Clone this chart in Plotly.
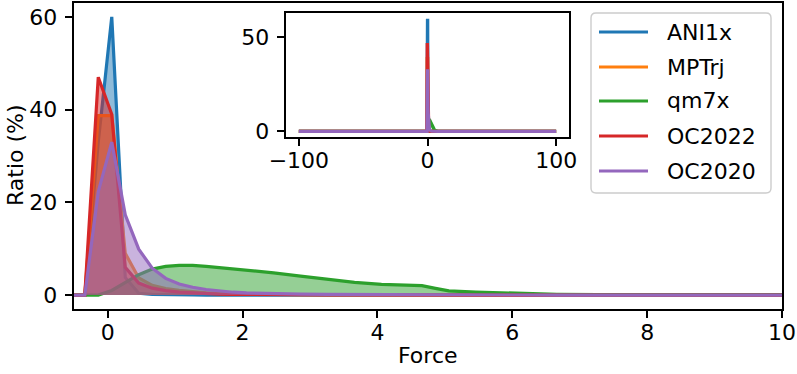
import plotly.graph_objects as go

# force bins (shared x for every dataset)
force = [-100, -0.34, -0.14, 0.06, 0.26, 0.46, 0.66, 0.86, 1.06, 1.26, 1.46, 1.66, 1.86,
         2.06, 2.46, 2.86, 3.26, 3.66, 4.06, 4.46, 4.66, 4.86, 5.06, 5.46, 6.06, 6.66,
         7.26, 8.06, 9.06, 10.06, 100]

names = ['ANI1x', 'MPTrj', 'qm7x', 'OC2022', 'OC2020']

ani1x = [0, 0, 33, 60, 3.8, 0.4, 0.15, 0.07, 0.03, 0.02, 0.01, 0.01,
         0, 0, 0, 0, 0, 0, 0, 0, 0, 0, 0, 0, 0, 0, 0, 0, 0, 0, 0]
mptrj = [0, 0, 38.7, 38.7, 9.0, 3.7, 2.1, 1.4, 1.0, 0.7, 0.5, 0.35, 0.27, 0.2,
         0.13, 0.09, 0.06, 0.05, 0.04, 0.03, 0.03, 0.02, 0.02, 0.02,
         0.01, 0.01, 0.01, 0, 0, 0, 0]
qm7x = [0, 0, 0, 1.0, 2.7, 4.4, 5.6, 6.2, 6.4, 6.4, 6.2, 5.95, 5.7, 5.4, 4.8, 4.1,
        3.35, 2.75, 2.3, 2.05, 2.05, 1.45, 0.9, 0.65, 0.35, 0.18, 0.1, 0.04, 0.02, 0.01, 0]
oc2022 = [0, 0, 47, 39, 6.0, 2.6, 1.5, 0.95, 0.65, 0.45, 0.3, 0.22, 0.16, 0.12,
          0.07, 0.04, 0.03, 0.02, 0.01, 0.01, 0.01, 0, 0, 0, 0, 0, 0, 0, 0, 0, 0]
oc2020 = [0, 0, 22.3, 33.0, 17.3, 9.9, 5.8, 3.6, 2.4, 1.7, 1.2, 0.85, 0.62, 0.47,
          0.3, 0.2, 0.14, 0.1, 0.08, 0.06, 0.05, 0.05, 0.04, 0.03, 0.02, 0.01, 0.01, 0.01, 0, 0, 0]

series = [ani1x, mptrj, qm7x, oc2022, oc2020]
colors = ['#1f77b4', '#ff7f0e', '#2ca02c', '#d62728', '#9467bd']

W, H = 797, 374
L, R, T, B = 74, 782, 3, 309  # main axes box in pixels
FONT = dict(family='DejaVu Sans', size=22, color='black')


def px(x):
    return (x - L) / (R - L)


def py(y):
    return (B - y) / (B - T)


def rgba(hex_color, a):
    h = hex_color.lstrip('#')
    return 'rgba(%d,%d,%d,%s)' % (int(h[0:2], 16), int(h[2:4], 16), int(h[4:6], 16), a)


fig = go.Figure()

# main plot
for name, ys, c in zip(names, series, colors):
    fig.add_trace(go.Scatter(
        x=force, y=ys, name=name, mode='lines',
        line=dict(color=c, width=3.2),
        fill='tozeroy', fillcolor=rgba(c, 0.5),
        xaxis='x', yaxis='y', showlegend=False
    ))

# inset with the full range
for name, ys, c in zip(names, series, colors):
    fig.add_trace(go.Scatter(
        x=force, y=ys, name=name, mode='lines',
        line=dict(color=c, width=3.4),
        xaxis='x2', yaxis='y2', showlegend=False
    ))

axis_common = dict(
    showline=True, mirror=True, linecolor='black', linewidth=1.8,
    ticks='outside', ticklen=7.5, tickwidth=1.8, tickcolor='black',
    showgrid=False, zeroline=False, automargin=False,
    tickfont=FONT,
)

fig.update_layout(
    width=W, height=H,
    margin=dict(l=L, r=W - R, t=T, b=H - B),
    plot_bgcolor='white', paper_bgcolor='white',
    showlegend=False,
    xaxis=dict(domain=[0, 1], range=[-0.5, 10], tickvals=[0, 2, 4, 6, 8, 10],
               anchor='y', ticklabelstandoff=-5, **axis_common),
    yaxis=dict(domain=[0, 1], range=[-3, 63], tickvals=[0, 20, 40, 60],
               anchor='x', ticklabelstandoff=3, **axis_common),
    xaxis2=dict(domain=[px(286), px(569)], range=[-110, 110], tickvals=[-100, 0, 100],
                anchor='y2', ticklabelstandoff=-5, **axis_common),
    yaxis2=dict(domain=[py(137), py(13)], range=[-3, 63], tickvals=[0, 50],
                anchor='x2', ticklabelstandoff=3, **axis_common),
)

# axis titles
fig.add_annotation(text='Force', xref='paper', yref='paper', x=px(428), y=py(356),
                   showarrow=False, font=FONT, xanchor='center', yanchor='middle')
fig.add_annotation(text='Ratio (%)', xref='paper', yref='paper', x=px(15), y=py(155),
                   showarrow=False, textangle=-90, font=FONT,
                   xanchor='center', yanchor='middle')

# legend box (rounded)
bx0, bx1, by0, by1, r = 591, 771, 13, 193, 5
path = (f'M {px(bx0 + r)},{py(by0)} L {px(bx1 - r)},{py(by0)} '
        f'Q {px(bx1)},{py(by0)} {px(bx1)},{py(by0 + r)} '
        f'L {px(bx1)},{py(by1 - r)} Q {px(bx1)},{py(by1)} {px(bx1 - r)},{py(by1)} '
        f'L {px(bx0 + r)},{py(by1)} Q {px(bx0)},{py(by1)} {px(bx0)},{py(by1 - r)} '
        f'L {px(bx0)},{py(by0 + r)} Q {px(bx0)},{py(by0)} {px(bx0 + r)},{py(by0)} Z')
fig.add_shape(type='path', path=path, xref='paper', yref='paper',
              line=dict(color='#cccccc', width=1.4), fillcolor='rgba(255,255,255,0.8)')

entry_y = [32, 67, 101, 136, 171]
for name, c, ey in zip(names, colors, entry_y):
    fig.add_shape(type='line', xref='paper', yref='paper',
                  x0=px(599), x1=px(648), y0=py(ey), y1=py(ey),
                  line=dict(color=c, width=3.2))
    fig.add_annotation(text=name, xref='paper', yref='paper', x=px(665), y=py(ey),
                       showarrow=False, xanchor='left', yanchor='middle', font=FONT)

# drop the default page margin so the figure sits at the window corner
fig.write_html('out.html', config={'displayModeBar': False},
               post_script="document.body.style.margin='0';")
